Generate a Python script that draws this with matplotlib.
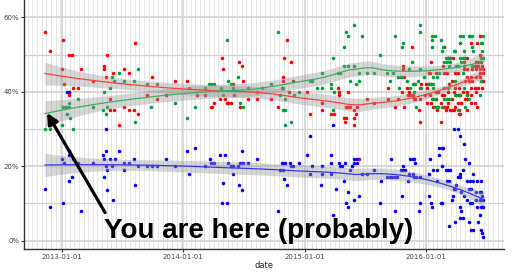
import numpy as np
import pandas as pd
import matplotlib
matplotlib.use("Agg")
import matplotlib.pyplot as plt
import matplotlib.dates as mdates
from matplotlib.ticker import FixedLocator, FuncFormatter

# points: (decimal year, percent)
red_pts = [
    (2012.86, 56), (2012.90, 51), (2013.01, 54), (2013.00, 46), (2013.02, 42), (2013.06, 50),
    (2013.08, 50), (2013.06, 40), (2013.06, 39), (2013.09, 41), (2013.13, 41), (2013.16, 46),
    (2013.26, 43), (2013.35, 47), (2013.35, 46), (2013.37, 50), (2013.36, 44), (2013.40, 38),
    (2013.40, 35), (2013.43, 35), (2013.42, 45), (2013.47, 31), (2013.51, 46), (2013.51, 36),
    (2013.55, 45), (2013.55, 35), (2013.59, 35), (2013.60, 53), (2013.63, 34), (2013.70, 39),
    (2013.74, 44), (2013.78, 38), (2013.86, 39), (2013.93, 43), (2014.03, 43), (2014.05, 41),
    (2014.11, 39), (2014.18, 39), (2014.23, 36), (2014.24, 36), (2014.25, 37), (2014.30, 38),
    (2014.32, 49), (2014.33, 46), (2014.34, 38), (2014.36, 37), (2014.37, 37), (2014.39, 37),
    (2014.41, 42), (2014.42, 39), (2014.46, 48), (2014.47, 36), (2014.48, 47), (2014.49, 43),
    (2014.53, 38), (2014.61, 38), (2013.06, 24),
    (2014.85, 54), (2014.83, 49), (2014.89, 48), (2014.82, 44), (2014.82, 43), (2014.81, 41),
    (2014.78, 36), (2014.72, 38), (2014.90, 43), (2014.87, 40), (2015.02, 40), (2015.04, 34),
    (2015.14, 37), (2015.14, 35), (2015.22, 34), (2015.24, 34), (2015.27, 41), (2015.28, 40),
    (2015.28, 39), (2015.32, 33), (2015.34, 33), (2015.34, 36), (2015.36, 36), (2015.37, 36),
    (2015.33, 32), (2015.36, 40), (2015.41, 35), (2015.42, 34), (2015.41, 33), (2015.41, 31),
    (2015.43, 36), (2015.51, 38), (2015.57, 37), (2015.69, 41), (2015.69, 38), (2015.74, 36),
    (2015.77, 38), (2015.80, 40), (2015.81, 47), (2015.81, 46), (2015.82, 44), (2015.82, 36),
    (2015.84, 41), (2015.86, 40), (2015.88, 52), (2015.91, 38), (2015.95, 32), (2015.95, 38),
    (2015.85, 39), (2015.87, 39), (2015.89, 39), (2015.90, 38), (2015.45, 22),
    (2016.01, 41), (2016.04, 48), (2016.06, 36), (2016.08, 45), (2016.09, 35), (2016.12, 32),
    (2016.14, 47), (2016.16, 35), (2016.18, 49), (2016.20, 49), (2016.22, 49), (2016.25, 39),
    (2016.28, 39), (2016.28, 34), (2016.31, 48), (2016.32, 49), (2016.34, 49), (2016.44, 55),
    (2016.44, 50), (2016.45, 48), (2016.46, 49), (2016.15, 52), (2016.28, 53), (2016.37, 53),
    (2016.42, 53), (2016.41, 48), (2016.43, 48), (2016.40, 47), (2016.42, 47), (2016.43, 47),
    (2016.46, 47), (2016.31, 46), (2016.34, 46), (2016.38, 46), (2016.41, 46), (2016.44, 46),
    (2016.47, 46), (2016.02, 45), (2016.03, 45), (2016.15, 45), (2016.17, 45), (2016.24, 45),
    (2016.26, 45), (2016.44, 45), (2016.47, 45), (2016.34, 44), (2016.37, 44), (2016.41, 44),
    (2016.44, 44), (2016.21, 43), (2016.32, 43), (2016.35, 43), (2016.38, 43), (2016.46, 43),
    (2016.47, 43), (2015.95, 41), (2015.96, 42), (2016.00, 42), (2016.02, 42), (2016.19, 42),
    (2016.24, 41), (2016.27, 41), (2016.37, 41), (2016.40, 41), (2016.43, 41), (2016.46, 41),
    (2016.08, 40), (2016.10, 40), (2016.18, 40), (2016.23, 40), (2016.30, 40), (2016.34, 40),
    (2016.41, 40), (2015.99, 39), (2016.03, 39), (2016.13, 39), (2016.15, 39), (2016.27, 39),
    (2016.34, 39), (2016.37, 39), (2016.06, 38), (2016.08, 38), (2016.21, 38), (2016.32, 38),
    (2016.34, 38), (2016.01, 37), (2016.04, 37), (2016.12, 37), (2016.18, 37), (2016.26, 37),
    (2016.29, 37), (2016.37, 37), (2016.40, 37), (2016.15, 36), (2016.17, 36), (2016.24, 36),
    (2016.42, 36), (2016.20, 35), (2016.21, 35), (2016.23, 35), (2016.27, 35), (2016.34, 35),
    (2015.94, 35), (2016.27, 34),
]

green_pts = [
    (2012.86, 30), (2012.90, 30), (2013.00, 31), (2013.01, 36), (2013.03, 36), (2013.06, 37),
    (2013.06, 36), (2013.04, 34), (2013.07, 33), (2013.09, 30), (2013.13, 38), (2013.26, 36),
    (2013.34, 35), (2013.35, 40), (2013.36, 34), (2013.37, 36), (2013.40, 41), (2013.41, 44),
    (2013.43, 43), (2013.47, 45), (2013.51, 43), (2013.59, 43), (2013.60, 32), (2013.63, 46),
    (2013.70, 42), (2013.73, 36), (2013.78, 42), (2013.93, 37), (2014.03, 33), (2014.10, 36),
    (2014.18, 41), (2014.21, 42), (2014.23, 42), (2014.25, 42), (2014.31, 41), (2014.33, 39),
    (2014.36, 54), (2014.37, 43), (2014.39, 42), (2014.41, 41), (2014.45, 44), (2014.47, 37),
    (2014.49, 36), (2014.53, 41), (2014.61, 40),
    (2014.78, 56), (2014.65, 41), (2014.72, 42), (2014.81, 41), (2014.82, 41), (2014.80, 39),
    (2014.84, 38), (2014.82, 35), (2014.84, 35), (2014.84, 31), (2014.89, 32), (2014.91, 39),
    (2014.95, 40), (2015.04, 43), (2015.06, 43), (2015.10, 41), (2015.14, 45), (2015.14, 41),
    (2015.23, 49), (2015.22, 42), (2015.22, 41), (2015.24, 40), (2015.23, 35), (2015.27, 45),
    (2015.29, 45), (2015.32, 52), (2015.34, 56), (2015.36, 55), (2015.32, 47), (2015.36, 47),
    (2015.41, 47), (2015.41, 58), (2015.37, 43), (2015.42, 42), (2015.45, 43), (2015.47, 55),
    (2015.45, 45), (2015.51, 45), (2015.57, 45), (2015.62, 50), (2015.68, 45), (2015.70, 43),
    (2015.73, 45), (2015.74, 55), (2015.77, 44), (2015.79, 44), (2015.80, 44), (2015.80, 52),
    (2015.81, 53), (2015.78, 41), (2015.84, 43), (2015.86, 46), (2015.87, 41), (2015.88, 48),
    (2015.90, 40), (2015.91, 42), (2015.92, 36), (2015.95, 58), (2015.95, 56), (2015.98, 44),
    (2016.02, 42), (2016.04, 42), (2016.06, 42), (2016.05, 55), (2016.05, 54), (2016.09, 44),
    (2016.11, 45), (2016.14, 52), (2016.13, 51), (2016.16, 49), (2016.18, 49), (2016.20, 49),
    (2016.17, 48), (2016.20, 48), (2016.23, 51), (2016.24, 51), (2016.25, 47), (2016.28, 53),
    (2016.28, 49), (2016.30, 49), (2016.29, 48), (2016.31, 47), (2016.35, 55), (2016.36, 55),
    (2016.38, 55), (2016.38, 52), (2016.39, 51), (2016.45, 53), (2016.46, 53), (2016.46, 51),
    (2016.45, 49), (2016.47, 49), (2016.47, 55), (2016.05, 38), (2016.07, 38), (2016.34, 39),
    (2016.35, 38), (2016.44, 39), (2015.95, 46), (2016.06, 44), (2016.26, 47), (2016.30, 45),
    (2016.24, 43), (2016.38, 47), (2015.89, 42), (2015.90, 42), (2015.93, 43), (2015.96, 41),
    (2016.06, 41), (2016.15, 41), (2016.18, 41), (2016.24, 39), (2016.27, 39), (2016.31, 41),
    (2016.07, 36), (2016.09, 36), (2016.10, 36), (2016.13, 36), (2016.32, 36), (2016.26, 35),
    (2016.15, 38), (2016.17, 38), (2016.19, 38), (2016.45, 43), (2016.19, 49), (2016.15, 48),
    (2016.32, 49), (2016.19, 47), (2016.31, 51), (2016.28, 55), (2016.30, 55), (2016.12, 54),
    (2016.07, 55), (2016.05, 52),
]

blue_pts = [
    (2012.86, 14), (2012.90, 9), (2013.00, 22), (2013.02, 21), (2013.01, 10), (2013.06, 24),
    (2013.06, 23), (2013.06, 16), (2013.08, 17), (2013.09, 22), (2013.13, 21), (2013.16, 8),
    (2013.26, 21), (2013.34, 23), (2013.35, 22), (2013.35, 17), (2013.36, 20), (2013.36, 24),
    (2013.37, 19), (2013.37, 13.5), (2013.40, 22), (2013.44, 22), (2013.41, 20), (2013.42, 11),
    (2013.47, 24), (2013.51, 19), (2013.51, 21), (2013.55, 21), (2013.59, 22), (2013.60, 15),
    (2013.63, 20), (2013.70, 20), (2013.74, 20), (2013.78, 20), (2013.86, 22), (2013.93, 20),
    (2014.03, 24), (2014.05, 18), (2014.10, 25), (2014.18, 20), (2014.22, 22), (2014.23, 21),
    (2014.25, 21), (2014.30, 23), (2014.34, 23), (2014.33, 15.5), (2014.32, 10), (2014.36, 10),
    (2014.37, 21), (2014.39, 20), (2014.41, 20), (2014.41, 18), (2014.45, 20), (2014.46, 15),
    (2014.47, 21), (2014.48, 24), (2014.48, 13.5), (2014.49, 21), (2014.53, 21), (2014.61, 22),
    (2013.04, 40), (2013.06, 40), (2013.36, 30), (2015.23, 31), (2015.04, 28), (2016.23, 30),
    (2016.26, 30), (2016.28, 28),
    (2014.78, 8), (2014.81, 21), (2014.82, 21), (2014.84, 21), (2014.88, 21), (2014.80, 19),
    (2014.82, 19), (2014.83, 16.5), (2014.85, 15), (2014.89, 20), (2014.90, 20), (2014.95, 21),
    (2015.02, 23), (2015.04, 18), (2015.06, 20), (2015.13, 15), (2015.14, 20), (2015.14, 18),
    (2015.22, 23), (2015.22, 18), (2015.22, 21), (2015.23, 7), (2015.26, 14), (2015.28, 21),
    (2015.29, 20), (2015.31, 20), (2015.32, 16), (2015.33, 21), (2015.34, 10), (2015.36, 9),
    (2015.36, 13), (2015.37, 19), (2015.39, 20), (2015.41, 11), (2015.41, 22), (2015.43, 22),
    (2015.41, 21), (2015.43, 21), (2015.45, 12), (2015.47, 18), (2015.51, 18), (2015.57, 19),
    (2015.62, 10), (2015.63, 16), (2015.71, 22), (2015.68, 17), (2015.70, 17), (2015.72, 17),
    (2015.74, 17), (2015.76, 17), (2015.74, 8), (2015.79, 19), (2015.81, 19), (2015.83, 19),
    (2015.80, 12), (2015.81, 20), (2015.85, 16), (2015.87, 22), (2015.89, 22), (2015.90, 22),
    (2015.86, 18), (2015.89, 18), (2015.90, 17), (2015.92, 17), (2015.95, 17), (2015.91, 21),
    (2015.95, 10), (2015.94, 8), (2016.02, 18), (2016.02, 12), (2016.03, 22), (2016.04, 10),
    (2016.05, 9), (2016.06, 19), (2016.09, 19), (2016.09, 16), (2016.11, 23), (2016.11, 25),
    (2016.13, 25), (2016.14, 25), (2016.12, 10), (2016.13, 10), (2016.13, 20), (2016.16, 19),
    (2016.18, 19), (2016.20, 19), (2016.17, 16), (2016.19, 16), (2016.19, 4), (2016.21, 11),
    (2016.22, 12), (2016.23, 14), (2016.24, 14), (2016.24, 5), (2016.25, 15), (2016.26, 17),
    (2016.28, 17), (2016.28, 18), (2016.28, 9), (2016.29, 8), (2016.28, 6), (2016.30, 6),
    (2016.29, 13), (2016.30, 19), (2016.31, 26), (2016.32, 22), (2016.31, 12), (2016.34, 11),
    (2016.34, 16), (2016.36, 16), (2016.35, 21), (2016.35, 14), (2016.37, 14), (2016.35, 5),
    (2016.36, 10), (2016.38, 10), (2016.37, 3), (2016.39, 3), (2016.39, 18), (2016.39, 16),
    (2016.42, 16), (2016.45, 16), (2016.41, 13), (2016.44, 13), (2016.45, 13), (2016.41, 11),
    (2016.44, 11), (2016.43, 5), (2016.42, 9), (2016.45, 9), (2016.46, 9), (2016.47, 9),
    (2016.44, 7), (2016.45, 3), (2016.46, 2), (2016.47, 1), (2016.46, 12), (2016.47, 11),
]

x_ticks = ["2013-01-01", "2014-01-01", "2015-01-01", "2016-01-01"]
y_ticks = [0, 0.2, 0.4, 0.6]
note = "You are here (probably)"


def to_num(yrs):
    d = pd.Timestamp("2013-01-01") + pd.to_timedelta((np.asarray(yrs) - 2013) * 365.25, unit="D")
    return mdates.date2num(d.to_pydatetime())


def loess(x, y, xs, span=0.75):
    # local quadratic fit with tricube weights, like R's loess
    x0, x1 = x.min(), x.max()
    u = (x - x0) / (x1 - x0)
    us = (xs - x0) / (x1 - x0)
    n = len(u)
    k = int(np.ceil(span * n))

    def rows(pts):
        out = []
        for p in pts:
            d = np.abs(u - p)
            h = np.sort(d)[k - 1]
            w = np.clip(1 - (d / h) ** 3, 0, None) ** 3
            X = np.column_stack([np.ones(n), u - p, (u - p) ** 2])
            A = X.T @ (X * w[:, None])
            out.append(np.linalg.solve(A, (X * w[:, None]).T)[0])
        return np.array(out)

    L = rows(u)
    res = y - L @ y
    sigma = np.sqrt(np.sum(res ** 2) / (n - np.trace(L)))
    Ls = rows(us)
    fit = Ls @ y
    se = sigma * np.sqrt(np.sum(Ls ** 2, axis=1))
    return fit, se


fig = plt.figure(figsize=(5.2, 2.72), dpi=100)
ax = fig.add_axes([24 / 520, 23 / 272, 480 / 520, 249 / 272])

series = [
    (red_pts, "#ff0000", "#f8433a"),
    (green_pts, "#00a03c", "#3fb05a"),
    (blue_pts, "#0000ff", "#3838f0"),
]

for pts, c, lc in series:
    yrs, pct = zip(*pts)
    ax.scatter(to_num(yrs), np.array(pct) / 100, s=6.5, color=c, lw=0, zorder=3)

for pts, c, lc in series:
    yrs, pct = zip(*pts)
    x = to_num(yrs)
    y = np.array(pct) / 100
    xs = np.linspace(x.min(), x.max(), 80)
    fit, se = loess(x, y, xs)
    ax.fill_between(xs, fit - 1.96 * se, fit + 1.96 * se, color="#999999", alpha=0.4, lw=0, zorder=4)
    ax.plot(xs, fit, color=lc, lw=0.9, zorder=5)

ax.set_xlim(mdates.datestr2num("2012-09-09"), mdates.datestr2num("2016-08-23"))
ax.set_ylim(-0.0223, 0.6465)

ax.xaxis.set_major_locator(FixedLocator(mdates.datestr2num(x_ticks)))
ax.xaxis.set_major_formatter(FuncFormatter(lambda v, p: mdates.num2date(v).strftime("%Y-%m-%d")))
ax.xaxis.set_minor_locator(mdates.DayLocator(interval=14))
ax.yaxis.set_major_locator(FixedLocator(y_ticks))
ax.yaxis.set_minor_locator(FixedLocator([0.1, 0.3, 0.5]))
ax.yaxis.set_major_formatter(FuncFormatter(lambda v, p: f"{v * 100:.0f}%"))

ax.grid(which="major", color="#d2d2d2", lw=1.2, zorder=0)
ax.grid(which="minor", axis="x", color="#e0e0e0", lw=0.6, zorder=0)
ax.grid(which="minor", axis="y", color="#d2d2d2", lw=0.9, zorder=0)
ax.set_axisbelow(True)

for s in ["top", "right"]:
    ax.spines[s].set_visible(False)
for s in ["left", "bottom"]:
    ax.spines[s].set_color("#333333")
    ax.spines[s].set_linewidth(1.0)

ax.tick_params(which="major", length=2, width=0.8, color="#333333", labelsize=5,
               labelcolor="#444444", pad=1.5)
ax.tick_params(which="minor", length=0)
ax.set_xlabel("date", fontsize=6, color="#222222", labelpad=1)

ax.annotate("", xy=(0.048, 0.546), xytext=(0.169, 0.146), xycoords="axes fraction",
            arrowprops=dict(arrowstyle="-|>", lw=2.3, color="black", mutation_scale=16,
                            shrinkA=0, shrinkB=0), zorder=6)
ax.text(0.1667, 0.044, note, transform=ax.transAxes, fontsize=20, fontweight="bold",
        family="Liberation Sans", ha="left", va="baseline", zorder=6)

fig.savefig("out.png", dpi=100)
